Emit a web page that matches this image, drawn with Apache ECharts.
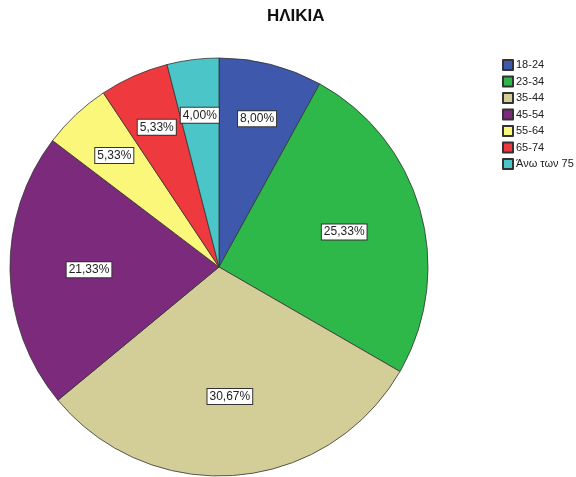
<!DOCTYPE html>
<html>
<head>
<meta charset="utf-8">
<script src="https://cdn.jsdelivr.net/npm/echarts@6/dist/echarts.min.js"></script>
<style>
  html, body { margin: 0; padding: 0; background: #fff; }
  #chart { width: 576px; height: 477px; }
</style>
</head>
<body>
<div id="chart"></div>
<script>
// κατηγορίες ηλικίας και ποσοστά (%)
const categories = ['18-24', '23-34', '35-44', '45-54', '55-64', '65-74', 'Άνω των 75']
const percents = [8.00, 25.33, 30.67, 21.33, 5.33, 5.33, 4.00]
const colors = ['#3e58ac', '#2fb84a', '#d3ce97', '#7b2a7c', '#fbf77a', '#ee3a3e', '#4bc5c8']

const fontFamily = 'Liberation Sans, Arial, sans-serif'
const center = [219, 267]

const pieData = categories.map((name, i) => ({
  name,
  value: percents[i],
  itemStyle: { color: colors[i] }
}))

const fmt = (v) => v.toFixed(2).replace('.', ',') + '%'

const labelStyle = {
  position: 'inside',
  formatter: (p) => fmt(p.value),
  fontFamily,
  fontSize: 12,
  color: '#222',
  backgroundColor: '#fff',
  borderColor: '#333',
  borderWidth: 1,
  padding: [2, 2, 1, 2]
}

// διαφανής σειρά μόνο για τις ετικέτες (μεγάλες ή μικρές φέτες)
const labelSeries = (radius, big) => ({
  type: 'pie',
  center,
  radius: [0, radius],
  startAngle: 90,
  clockwise: true,
  silent: true,
  legendHoverLink: false,
  data: percents.map((v, i) => ({
    name: categories[i],
    value: v,
    label: { show: big ? v > 15 : v <= 15 }
  })),
  itemStyle: { color: 'rgba(0,0,0,0)', borderWidth: 0 },
  label: labelStyle,
  labelLine: { show: false },
  emphasis: { disabled: true }
})

const chart = echarts.init(document.getElementById('chart'))

chart.setOption({
  animation: false,
  title: {
    text: 'ΗΛΙΚΙΑ',
    left: 267,
    top: 8,
    padding: 0,
    textStyle: { fontFamily, fontSize: 17, fontWeight: 'bold', color: '#111' }
  },
  legend: {
    data: categories,
    orient: 'vertical',
    left: 502,
    top: 59,
    padding: 0,
    itemWidth: 10,
    itemHeight: 10,
    itemGap: 4.5,
    icon: 'rect',
    selectedMode: false,
    textStyle: { fontFamily, fontSize: 11, lineHeight: 10, color: '#222', padding: [0, 0, 0, -2] }
  },
  series: [
    {
      type: 'pie',
      center,
      radius: [0, 209],
      startAngle: 90,
      clockwise: true,
      data: pieData,
      label: { show: false },
      labelLine: { show: false },
      itemStyle: { borderColor: '#333', borderWidth: 0.8 },
      emphasis: { disabled: true }
    },
    labelSeries(254, true),
    labelSeries(300, false)
  ]
})
</script>
</body>
</html>
